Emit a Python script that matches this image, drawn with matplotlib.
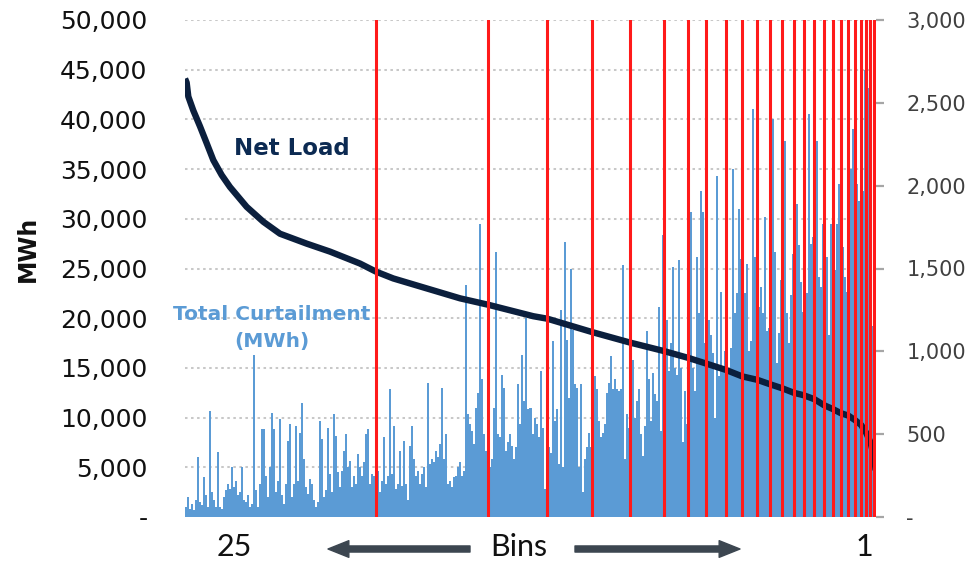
import matplotlib
matplotlib.use("Agg")
import matplotlib.pyplot as plt
from matplotlib.ticker import FuncFormatter

# ---------------- data ----------------
HOURS_IN_YEAR = 8760

# Net load duration curve (hour rank, MWh)
net_load_hours = [0, 21, 42, 105, 190, 275, 359, 465, 570, 782, 993, 1204, 1543,
                  1838, 2218, 2417, 2640, 3063, 3486, 3845, 4415, 4593, 5163,
                  5641, 6069, 6383, 6601, 6856, 7063, 7255, 7418, 7571, 7717,
                  7843, 7979, 8101, 8215, 8313, 8409, 8494, 8572, 8637, 8690,
                  8738, 8755]
net_load_mwh = [44100, 43700, 42300, 40900, 39300, 37600, 35900, 34400, 33200,
                31200, 29700, 28500, 27500, 26700, 25500, 24700, 24000, 23000,
                22000, 21350, 20200, 19950, 18600, 17550, 16700, 16000, 15450,
                14800, 14150, 13800, 13350, 12950, 12500, 12250, 11850, 11250,
                10850, 10450, 10200, 9750, 9250, 8450, 7500, 6000, 4700]

# Total curtailment (MWh), hours grouped in equal-width columns
curtail_a = [60, 120, 50, 80, 40, 100, 360, 90, 70, 240,
             130, 60, 640, 150, 100, 60, 390, 60, 50, 120,
             160, 200, 170, 300, 180, 220, 130, 150, 300, 100,
             90, 130, 60, 80, 975, 160, 60, 200, 530, 530,
             250, 120, 300, 630, 530, 150, 220, 590, 130, 80,
             200, 460, 560, 120, 200, 550, 220, 510, 690, 350,
             180, 140, 230, 200, 100, 60, 90, 580, 470, 120,
             160, 540, 260, 150, 620, 490, 270, 180, 280, 400,
             500, 300, 340, 180, 250, 200, 380]
curtail_b = [300, 250, 330, 500, 530, 200, 260, 250, 510, 280,
             150, 220, 480, 200, 250, 770, 260, 550, 170, 200,
             400, 190, 460, 200, 100, 430, 550, 350, 250, 280,
             200, 260, 300, 180, 810, 320, 350, 330, 400, 360,
             440, 780, 350, 500, 200, 220, 180, 240, 250, 300,
             330, 250, 280, 1400, 620, 560, 520, 440, 660, 750,
             1770, 830, 500, 400, 450, 300, 350, 660, 1600, 500,
             480, 860, 780, 400, 450, 500, 430, 350, 420, 800,
             560, 980, 700, 1200, 650, 660, 500, 600]
curtail_c = [560, 480, 880, 540, 170, 580, 420, 385, 1060, 580,
             650, 320, 1250, 300, 1657, 1070, 720, 1500, 1130, 800,
             780, 300, 800, 150, 350, 420, 505, 420, 450, 850,
             770, 580, 480, 505, 560, 750, 810, 970, 770, 830,
             770, 760, 770, 1520, 350, 620, 540, 560, 950, 600,
             700, 770, 500, 370, 550, 1120, 830, 580, 870, 740,
             700, 1270, 520, 1700, 1000, 1190, 880, 1050, 1510, 900,
             860, 1550, 900, 450, 760, 560, 850, 1840, 900, 760,
             1570, 1230, 1970, 1840, 1050, 760, 1190]
curtail_d = [1100, 990, 600, 2060, 850, 1360, 900, 1000, 1710, 900,
             1020, 2100, 1230, 1350, 1860, 1560, 1000, 1350, 1530, 1000,
             1060, 2460, 1570, 1370, 1270, 1390, 1230, 1810, 1120, 1140,
             2230, 2400, 1600, 930, 1110, 1430, 1190, 2270, 1230, 1050,
             1340, 1590, 1350, 1890, 1640, 1420, 1240, 1330, 1350, 2430,
             1650, 1690, 1100, 2270, 1450, 1390, 1770, 1690, 1570, 1100,
             1770, 1570, 1490, 1770, 2010, 1410, 1630, 1450, 1360, 1450,
             2100, 2340, 1250, 2010, 1910, 2220, 1970, 2700, 2590, 2590,
             1780, 1150, 1150]
curtailment_mwh = curtail_a + curtail_b + curtail_c + curtail_d

# Bin boundaries (hour rank) - 25 bins
bin_edges_hours = [2417, 3845, 4593, 5163, 5641, 6069, 6383, 6601, 6856, 7063,
                   7255, 7418, 7571, 7717, 7843, 7979, 8101, 8215, 8313, 8409,
                   8494, 8572, 8637, 8690, 8738]

left_ticks = [0, 5000, 10000, 15000, 20000, 25000, 30000, 35000, 40000, 45000, 50000]
right_ticks = [0, 500, 1000, 1500, 2000, 2500, 3000]
first_bin_label = "25"
last_bin_label = "1"
axis_word = "Bins"
series_net = "Net Load"
series_curt = "Total Curtailment\n(MWh)"
y_label = "MWh"

# ---------------- figure ----------------
W, H = 971, 563
fig = plt.figure(figsize=(W / 100, H / 100), dpi=100)
ax1 = fig.add_axes([185 / W, 46 / H, 691 / W, 497 / H])
ax2 = ax1.twinx()
ax3 = ax1.twinx()

for ax in (ax1, ax2, ax3):
    for s in ax.spines.values():
        s.set_visible(False)
    ax.set_xlim(0, HOURS_IN_YEAR)
    ax.patch.set_visible(False)

fmt = FuncFormatter(lambda v, p: "-" if v == 0 else f"{v:,.0f}")

# left axis (grid + labels)
ax1.set_ylim(0, 50000)
ax1.set_yticks(left_ticks)
ax1.yaxis.set_major_formatter(fmt)
ax1.tick_params(axis="y", length=0, pad=27, labelsize=18, labelcolor="#111111")
ax1.tick_params(axis="x", bottom=False, labelbottom=False)
ax1.grid(axis="y", color="#c8c8c8", linestyle=(0, (1.25, 1.75)), linewidth=1.45)
ax1.set_axisbelow(True)

# right axis: curtailment bars
n = len(curtailment_mwh)
bw = HOURS_IN_YEAR / n
centers = [(i + 0.5) * bw for i in range(n)]
ax2.bar(centers, curtailment_mwh, width=bw, color="#5b9bd5", linewidth=0,
        zorder=2)
ax2.set_ylim(0, 3000)
ax2.set_yticks(right_ticks)
ax2.yaxis.set_major_formatter(fmt)
ax2.tick_params(axis="y", length=5.8, width=1.6, color="#a6a6a6", pad=16,
                labelsize=15, labelcolor="#404040")
ax2.tick_params(axis="x", bottom=False, labelbottom=False)

# top layer: net load + bin boundaries
ax3.set_ylim(0, 50000)
ax3.set_yticks([])
ax3.tick_params(axis="x", bottom=False, labelbottom=False)
ax3.plot(net_load_hours, net_load_mwh, color="#0b1f3d", linewidth=4.6,
         solid_capstyle="butt", solid_joinstyle="round", zorder=3)
for e in bin_edges_hours:
    ax3.axvline(e, color="#ff1a1a", linewidth=2.2, zorder=4)

# annotations
ax3.text(0.155, 0.742, series_net, transform=ax3.transAxes, ha="center",
         va="center", fontsize=16.5, fontweight="bold", color="#0c2a52")
ax3.text(0.126, 0.38, series_curt, transform=ax3.transAxes, ha="center",
         va="center", fontsize=14.5, fontweight="bold", color="#5b9bd5",
         linespacing=1.5)

fig.text(28 / W, 1 - 249 / H, y_label, rotation=90, ha="center", va="center",
         fontsize=17, fontweight="bold", color="#111111")

by = 1 - 547 / H
fig.text(234 / W, by, first_bin_label, ha="center", va="center", fontsize=22,
         family="Lato", color="#111111")
fig.text(519 / W, by, axis_word, ha="center", va="center", fontsize=22,
         family="Lato", color="#111111")
fig.text(864 / W, by, last_bin_label, ha="center", va="center", fontsize=22,
         family="Lato", color="#111111")

arrow_color = "#3c4650"
astyle = "simple,head_length=0.75,head_width=0.6,tail_width=0.22"
ax3.annotate("", xy=(328 / W, 1 - 549 / H), xytext=(470 / W, 1 - 549 / H),
             xycoords="figure fraction", textcoords="figure fraction",
             arrowprops=dict(arrowstyle=astyle, color=arrow_color,
                             mutation_scale=20, shrinkA=0, shrinkB=0))
ax3.annotate("", xy=(740 / W, 1 - 549 / H), xytext=(575 / W, 1 - 549 / H),
             xycoords="figure fraction", textcoords="figure fraction",
             arrowprops=dict(arrowstyle=astyle, color=arrow_color,
                             mutation_scale=20, shrinkA=0, shrinkB=0))

fig.savefig("out.png", dpi=100)
